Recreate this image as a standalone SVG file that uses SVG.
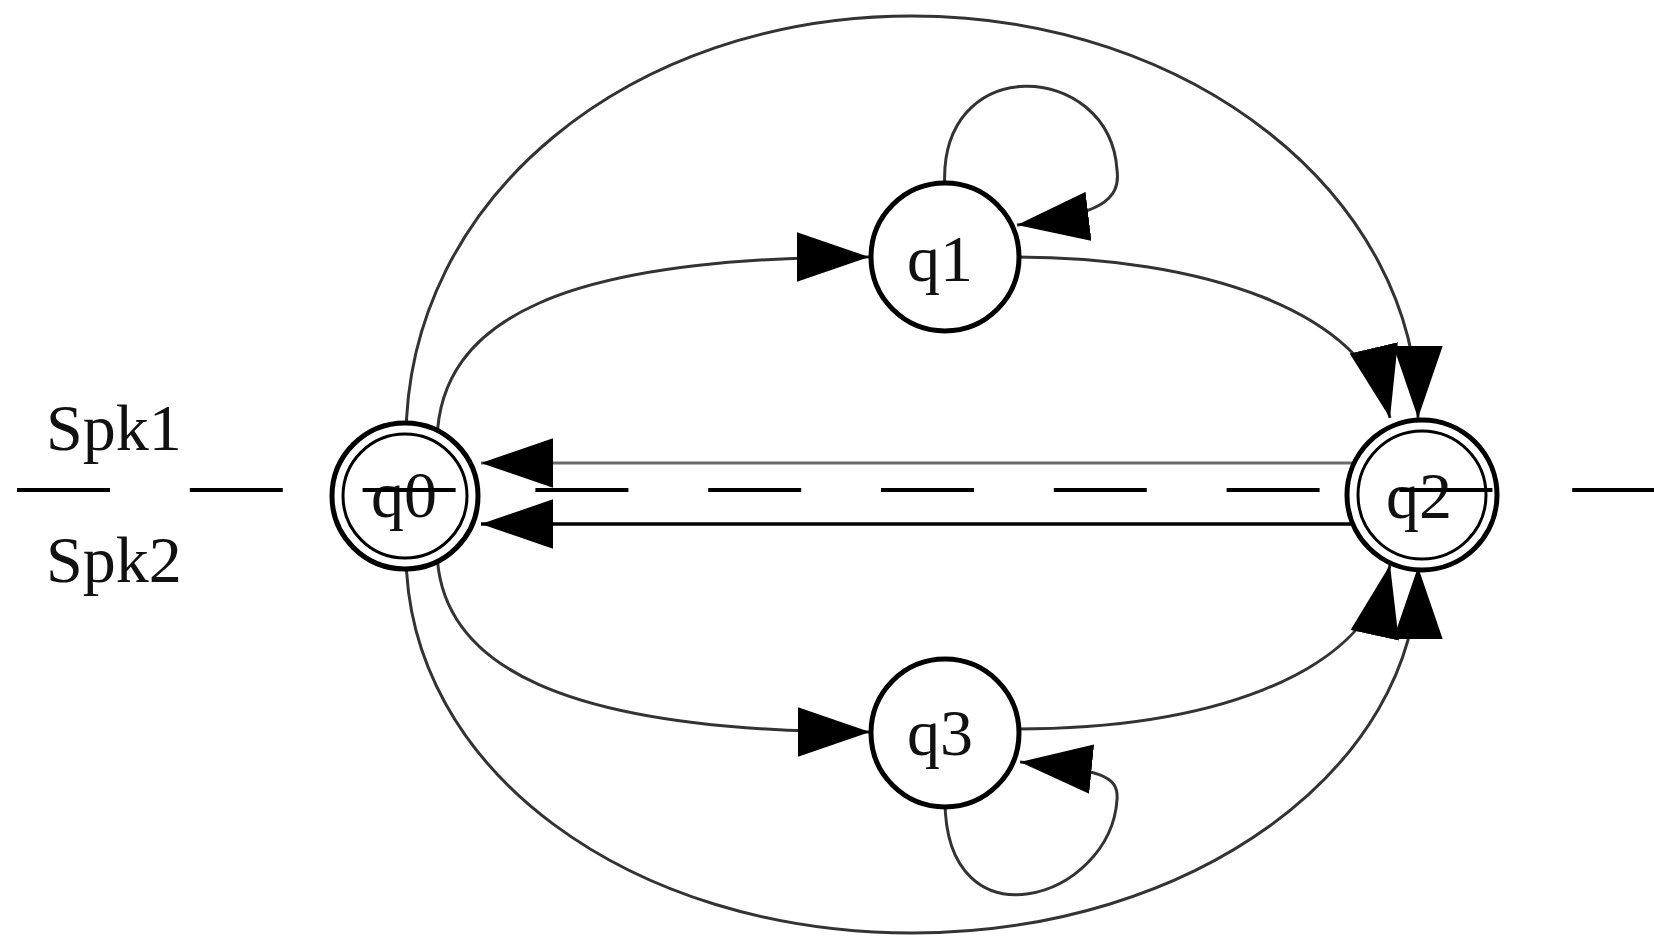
<svg xmlns="http://www.w3.org/2000/svg" width="1654" height="938" viewBox="0 0 1654 938">
<defs>
<style>
.edge{fill:none;stroke:#333;stroke-width:3}
.node{fill:#fff;stroke:#000;stroke-width:5}
.inner{fill:none;stroke:#000;stroke-width:3}
.lbl{font-family:"Liberation Serif","Times New Roman",serif;font-size:66px;fill:#111}
.nlbl{font-family:"Liberation Serif","Times New Roman",serif;font-size:66px;fill:#111;text-anchor:middle}
</style>
<marker id="arr" markerUnits="userSpaceOnUse" markerWidth="72" markerHeight="50" viewBox="0 0 70 48" refX="70" refY="24" orient="auto">
<path d="M0,0 L70,24 L0,48 z" fill="#000"/>
</marker>
</defs>
<rect width="1654" height="938" fill="#fff"/>
<g id="connectors">
<path class="edge" d="M406,440 C406,196 632,16 912,16 C1192,16 1418,196 1418,418" marker-end="url(#arr)"/>
<path class="edge" d="M437,440 C440,320 560,257 869,257" marker-end="url(#arr)"/>
<path class="edge" d="M1015,257 C1200,257 1365,310 1390,418" marker-end="url(#arr)"/>
<path class="edge" d="M945,190 C935,50 1110,60 1117,170 C1121,200 1100,215 1017,225" marker-end="url(#arr)"/>
<path class="edge" style="stroke:#6a6a6a" d="M1360,463 L481,463" marker-end="url(#arr)"/>
<path class="edge" style="stroke:#000;stroke-width:3.5" d="M1360,524 L481,524" marker-end="url(#arr)"/>
<path class="edge" d="M437,552 C440,665 560,732 870,732" marker-end="url(#arr)"/>
<path class="edge" d="M1015,729 C1200,729 1365,680 1390,565" marker-end="url(#arr)"/>
<path class="edge" d="M945,800 C945,950 1110,900 1117,800 C1119,775 1100,770 1020,762" marker-end="url(#arr)"/>
<path class="edge" d="M406,552 C406,771 632,933 912,933 C1192,933 1418,769 1418,567" marker-end="url(#arr)"/>
</g>
<g id="q0">
<circle class="node" cx="405" cy="496" r="73"/>
<circle class="inner" cx="405" cy="496" r="62"/>
<text class="nlbl" x="404" y="517">q0</text>
</g>
<g id="q1">
<circle class="node" cx="945" cy="257" r="74"/>
<text class="nlbl" x="940" y="281">q1</text>
</g>
<g id="q2">
<circle class="node" cx="1422" cy="495" r="75"/>
<circle class="inner" cx="1422" cy="495" r="64"/>
<text class="nlbl" x="1419" y="518">q2</text>
</g>
<g id="q3">
<circle class="node" cx="945" cy="733" r="74"/>
<text class="nlbl" x="940" y="755">q3</text>
</g>
<g id="labels">
<text class="lbl" x="46" y="450">Spk1</text>
<text class="lbl" x="46" y="582">Spk2</text>
</g>
<line id="divider" x1="17" y1="490" x2="1654" y2="490" stroke="#000" stroke-width="4" stroke-dasharray="93 79.8"/>
</svg>
